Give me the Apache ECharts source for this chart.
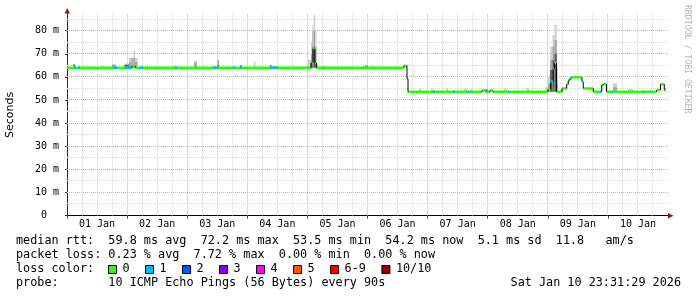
<!DOCTYPE html>
<html><head><meta charset="utf-8">
<script src="https://cdn.jsdelivr.net/npm/echarts@6/dist/echarts.min.js"></script>
<style>html,body{margin:0;padding:0;background:#fff}#c{width:697px;height:297px}</style>
</head><body><div id="c"></div>
<script>
// ---------------- data (time in days since 01 Jan 00:00, values in ms) ----------------
const dayLabels = ['01 Jan','02 Jan','03 Jan','04 Jan','05 Jan','06 Jan','07 Jan','08 Jan','09 Jan','10 Jan'];
const yTickValues = [0, 10, 20, 30, 40, 50, 60, 70, 80];
const endDay = 9.967;

// median rtt: [start day, median ms] – value holds until the next step
const medianSteps = [
  [0.000, 64.0], [1.080, 64.7], [1.140, 64.0],
  [4.060, 66.2], [4.093, 72.2], [4.126, 66.0], [4.151, 64.0],
  [5.607, 64.8], [5.657, 59.2], [5.674, 53.6],
  [6.905, 54.1], [6.963, 53.6], [7.038, 54.1], [7.088, 53.6],
  [8.003, 54.6], [8.048, 57.9], [8.087, 63.3], [8.112, 65.9], [8.145, 53.6],
  [8.236, 55.0], [8.314, 56.8], [8.341, 58.5], [8.370, 59.4], [8.396, 59.8],
  [8.569, 57.9], [8.590, 55.0], [8.757, 53.6], [8.897, 56.5], [8.924, 56.9],
  [8.977, 53.6], [9.812, 54.3], [9.875, 56.8], [9.938, 54.3]
];

// packet loss spans: [from day, to day, lost pings of 10]
const lossSpans = [
  [0.116,0.150,1],[0.183,0.216,1],[0.765,0.832,1],[0.965,1.080,1],[1.215,1.265,1],
  [1.331,1.348,1],[1.797,1.830,1],[2.429,2.512,1],[2.762,2.795,1],[2.879,2.912,1],
  [3.378,3.511,1],[4.260,4.276,1],[4.925,4.942,1],[4.990,5.008,1],[6.090,6.123,1],
  [6.423,6.456,1],[6.672,6.689,1],[6.955,7.005,1],[7.088,7.105,1],[7.338,7.354,1],
  [8.048,8.087,1],[8.370,8.396,1],[8.569,8.590,1],[8.869,8.885,1],[9.068,9.085,1],
  [9.584,9.601,1],[9.700,9.717,1]
];

// smoke (ping spread): [from day, to day, low ms, outer high, middle high, inner high]
const smoke = [
  [0.108,0.133,64.0,65.4,65.4,65.4],
  [0.591,0.616,64.0,65.2,null,null],
  [0.749,0.815,64.0,65.6,65.2,null],
  [0.957,1.032,64.0,65.8,null,65.3],
  [1.032,1.073,64.0,68.2,66.5,null],
  [1.073,1.106,64.0,68.3,68.2,65.0],
  [1.106,1.131,64.0,71.6,68.3,null],
  [1.131,1.173,64.0,68.2,66.5,null],
  [2.113,2.163,64.0,67.0,66.0,null],
  [2.504,2.529,64.0,67.3,67.3,65.0],
  [2.879,2.903,64.0,null,null,65.0],
  [3.111,3.136,64.0,66.6,null,null],
  [3.378,3.403,64.0,null,null,65.0],
  [4.010,4.060,64.0,67.3,null,null],
  [4.060,4.085,64.0,75.0,70.0,66.3],
  [4.085,4.102,64.0,82.5,80.0,73.0],
  [4.102,4.131,64.0,86.8,80.0,73.0],
  [4.131,4.151,64.0,80.0,73.0,66.0],
  [4.151,4.180,64.0,65.7,null,null],
  [4.958,5.008,64.0,65.2,65.2,null],
  [5.083,5.108,64.0,65.3,null,null],
  [5.857,5.890,53.6,55.0,null,null],
  [6.057,6.090,53.6,55.0,null,null],
  [6.306,6.339,53.6,55.0,null,null],
  [6.606,6.656,53.6,55.0,null,null],
  [6.722,6.755,53.6,55.0,null,null],
  [7.271,7.321,53.6,55.0,null,null],
  [7.637,7.687,53.6,55.0,null,null],
  [7.953,8.003,53.6,55.5,null,null],
  [8.003,8.040,53.6,60.0,57.0,null],
  [8.040,8.078,53.6,73.0,67.3,63.0],
  [8.078,8.111,53.6,78.0,73.0,67.3],
  [8.111,8.150,53.6,82.5,76.0,70.0],
  [8.150,8.170,53.6,64.0,58.0,null],
  [9.085,9.151,53.6,57.3,55.5,null],
  [9.334,9.418,53.6,54.8,null,null]
];

const lossLegend = ['0','1','2','3','4','5','6-9','10/10'];
const lossColors = ['#26ff00','#00b8ff','#0059ff','#7e00ff','#ff00ff','#ff5500','#ff0000','#a00000'];
const rttValues = ['59.8','72.2','53.5','54.2','5.1','11.8'];
const lossValues = ['0.23','7.72','0.00','0.00'];
const probeText = '10 ICMP Echo Pings (56 Bytes) every 90s';
const dateText = 'Sat Jan 10 23:31:29 2026';

// ---------------- layout / style ----------------
const G = {left: 67, top: 13, right: 29, bottom: 81.5};
const W = 697, H = 297;
const yMax = 87.66;
const MONO = '"DejaVu Sans Mono", monospace';
const minorGrid = '#d6d6d6', majorGrid = '#eea2a2';
const smokeColors = ['#d0d0d0', '#a6a6a6', '#5c5c5c'];

// grid line positions (6-hour / 1-day in x, 5 ms / 10 ms in y)
const gridLines = [];
for (let q = 1; q < 40; q++) gridLines.push(['x', q / 4, q % 4 === 0]);
for (let q = 1; q <= 17; q++) gridLines.push(['y', q * 5, q % 2 === 0]);

function medianAt(t) {
  let v = medianSteps[0][1];
  for (const s of medianSteps) { if (s[0] <= t + 1e-9) v = s[1]; else break; }
  return v;
}
function lossBin(n) { return n <= 5 ? n : (n < 10 ? 6 : 7); }
const crisp = (v) => Math.round(v - 0.5) + 0.5;

const medianSegs = medianSteps.map((s, i) => [
  s[0], i + 1 < medianSteps.length ? medianSteps[i + 1][0] : endDay, s[1], i > 0 ? medianSteps[i - 1][1] : s[1]
]);

const chart = echarts.init(document.getElementById('c'), null, {renderer: 'canvas'});

// legend / text graphics
const graphics = [];
const rows = [
  `median rtt:  ${rttValues[0]} ms avg  ${rttValues[1]} ms max  ${rttValues[2]} ms min  ${rttValues[3]} ms now  ${rttValues[4]} ms sd  ${rttValues[5]}   am/s`,
  `packet loss: ${lossValues[0]} % avg  ${lossValues[1]} % max  ${lossValues[2]} % min  ${lossValues[3]} % now`,
  'loss color:',
  'probe:       ' + probeText
];
const rowY = [240.6, 254.9, 269, 283];
const FS = 11.8;
rows.forEach((t, i) => graphics.push({
  type: 'text', x: 16, y: rowY[i],
  style: {text: t, font: `${FS}px ${MONO}`, fill: '#000', textAlign: 'left', textVerticalAlign: 'middle'}
}));
graphics.push({type: 'text', x: 681, y: rowY[3],
  style: {text: dateText, font: `${FS}px ${MONO}`, fill: '#000', textAlign: 'right', textVerticalAlign: 'middle'}});
let bx = 108.5;
lossLegend.forEach((lab, i) => {
  graphics.push({type: 'rect', shape: {x: bx, y: 265.5, width: 8, height: 8},
    style: {fill: lossColors[i], stroke: '#000', lineWidth: 1}});
  graphics.push({type: 'text', x: bx + 14, y: rowY[2],
    style: {text: lab, font: `${FS}px ${MONO}`, fill: '#000', textAlign: 'left', textVerticalAlign: 'middle'}});
  bx += 29.9 + lab.length * 7.12;
});
// y axis title
graphics.push({type: 'text', x: 10.5, y: 115, rotation: Math.PI / 2,
  style: {text: 'Seconds', font: '11px "DejaVu Sans", sans-serif', fill: '#000', textAlign: 'center', textVerticalAlign: 'middle'}});
// watermark
graphics.push({type: 'text', x: 687.5, y: 5, rotation: -Math.PI / 2,
  style: {text: 'RRDTOOL / TOBI OETIKER', font: `8.2px ${MONO}`, fill: '#b4b4b4', textAlign: 'left', textVerticalAlign: 'middle'}});
// axis arrows
const yBase = H - G.bottom, xEnd = W - G.right;
graphics.push({type: 'polygon', shape: {points: [[G.left - 2.5, G.top + 0.5], [G.left + 3, G.top + 0.5], [G.left + 0.25, G.top - 5]]},
  style: {fill: '#7f1f1f'}, z: 10});
graphics.push({type: 'polygon', shape: {points: [[xEnd, yBase - 2.5], [xEnd, yBase + 3], [xEnd + 5.5, yBase + 0.25]]},
  style: {fill: '#7f1f1f'}, z: 10});

const option = {
  animation: false,
  backgroundColor: '#ffffff',
  grid: {left: G.left, right: G.right, top: G.top, bottom: G.bottom, containLabel: false, outerBoundsMode: 'none'},
  xAxis: [
    { // day-boundary ticks
      type: 'value', min: 0, max: 10, interval: 1, position: 'bottom',
      axisLine: {show: false}, axisLabel: {show: false}, splitLine: {show: false},
      axisTick: {show: true, length: 3, lineStyle: {color: '#444'}}
    },
    { // labels at noon
      type: 'value', min: 0, max: 10, interval: 0.5, position: 'bottom',
      axisLine: {show: true, lineStyle: {color: '#000', width: 1}},
      axisTick: {show: false}, splitLine: {show: false},
      axisLabel: {show: true, margin: 4, color: '#000', fontFamily: MONO, fontSize: 10,
        formatter: v => (Math.abs(v % 1 - 0.5) < 1e-6 ? dayLabels[Math.floor(v)] : '')}
    }
  ],
  yAxis: [{
    type: 'value', min: 0, max: yMax, interval: 10, position: 'left',
    axisLine: {show: true, lineStyle: {color: '#2a2a2a', width: 1}},
    axisTick: {show: true, length: 2, lineStyle: {color: '#444'}},
    splitLine: {show: false},
    axisLabel: {show: true, margin: 8, color: '#000', fontFamily: MONO, fontSize: 10, showMaxLabel: false,
      formatter: v => (yTickValues.indexOf(v) < 0 ? '' : (v === 0 ? '0  ' : v + ' m'))}
  }],
  series: [
    {
      type: 'custom', name: 'grid', coordinateSystem: 'cartesian2d', xAxisIndex: 1, yAxisIndex: 0,
      clip: false, z: 1, silent: true,
      data: gridLines.map((g, i) => [i]),
      renderItem: (params, api) => {
        const g = gridLines[params.dataIndex];
        let a, b;
        if (g[0] === 'x') { a = api.coord([g[1], 0]); b = api.coord([g[1], yMax]); a[0] = b[0] = crisp(a[0]); }
        else { a = api.coord([0, g[1]]); b = api.coord([10, g[1]]); a[1] = b[1] = crisp(a[1]); }
        return {type: 'line', shape: {x1: a[0], y1: a[1], x2: b[0], y2: b[1]},
          style: {stroke: g[2] ? majorGrid : minorGrid, lineWidth: 1, lineDash: [1, 1]}};
      }
    },
    {
      type: 'custom', name: 'smoke', coordinateSystem: 'cartesian2d', xAxisIndex: 1, yAxisIndex: 0,
      clip: true, z: 2, silent: true,
      data: smoke.map(r => [r[0], r[1], r[2]]),
      renderItem: (params, api) => {
        const r = smoke[params.dataIndex];
        const children = [];
        [3, 4, 5].forEach((k, j) => {
          const hi = r[k];
          if (hi == null || !(hi > r[2])) return;
          const a = api.coord([r[0], hi]);
          const b = api.coord([r[1], r[2]]);
          children.push({type: 'rect', shape: {x: a[0], y: a[1], width: b[0] - a[0], height: b[1] - a[1]},
            style: {fill: smokeColors[j]}});
        });
        return {type: 'group', children};
      }
    },
    {
      type: 'custom', name: 'median', coordinateSystem: 'cartesian2d', xAxisIndex: 1, yAxisIndex: 0,
      clip: true, z: 3, silent: true,
      data: medianSegs,
      renderItem: (params, api) => {
        const t0 = api.value(0), t1 = api.value(1), v = api.value(2), pv = api.value(3);
        const p0 = api.coord([t0, v]), p1 = api.coord([t1, v]), q = api.coord([t0, pv]);
        return {type: 'group', children: [
          {type: 'line', shape: {x1: p0[0], y1: p0[1], x2: p1[0], y2: p1[1]},
            style: {stroke: lossColors[0], lineWidth: 2.5}},
          {type: 'line', shape: {x1: q[0], y1: q[1], x2: p0[0], y2: p0[1]},
            style: {stroke: '#000', lineWidth: 1}}
        ]};
      }
    },
    {
      type: 'custom', name: 'loss', coordinateSystem: 'cartesian2d', xAxisIndex: 1, yAxisIndex: 0,
      clip: true, z: 4, silent: true,
      data: lossSpans,
      renderItem: (params, api) => {
        const t0 = api.value(0), t1 = api.value(1), n = api.value(2);
        const v = medianAt(t0);
        const p0 = api.coord([t0, v]), p1 = api.coord([t1, v]);
        return {type: 'line', shape: {x1: p0[0], y1: p0[1], x2: p1[0], y2: p1[1]},
          style: {stroke: lossColors[lossBin(n)], lineWidth: 2.5}};
      }
    }
  ],
  graphic: graphics
};
chart.setOption(option);
</script></body></html>
